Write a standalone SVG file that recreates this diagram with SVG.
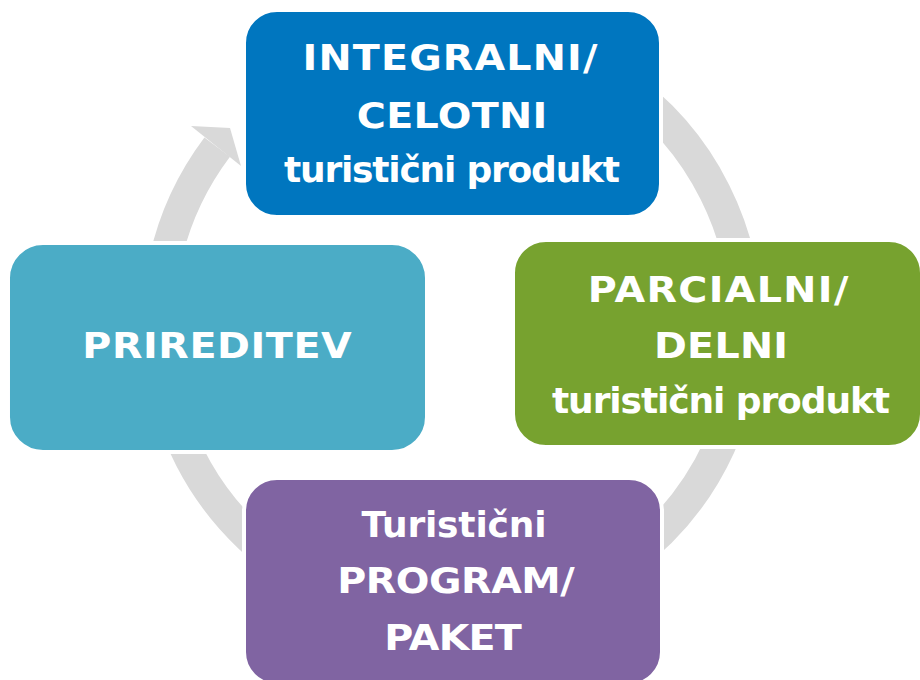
<svg xmlns="http://www.w3.org/2000/svg" width="920" height="680" viewBox="0 0 920 680">
<style>
.box{stroke:#ffffff;stroke-width:4}
.t{font-family:"DejaVu Sans","Verdana",sans-serif;font-weight:bold;font-size:36px;fill:#ffffff;text-anchor:middle}
.ring{fill:none;stroke:#D9D9D9;stroke-width:32}
</style>
<rect width="920" height="680" fill="#ffffff"/>
<g id="connectors">
<path class="ring" d="M 351.4 47.7 A 294 294 0 1 1 217.2 147.1"/>
<polygon points="191,126 230,128 241,166" fill="#D9D9D9"/>
</g>
<g id="node-integralni">
<rect class="box" x="244" y="10" width="417" height="207" rx="33" fill="#0076BF"/>
<text class="t" transform="translate(450 70) scale(1.1 1)" textLength="268" lengthAdjust="spacing">INTEGRALNI/</text>
<text class="t" transform="translate(452 128) scale(1.1 1)" textLength="173" lengthAdjust="spacing">CELOTNI</text>
<text class="t" x="452" y="182" textLength="336" lengthAdjust="spacing">turistični produkt</text>
</g>
<g id="node-prireditev">
<rect class="box" x="8" y="243" width="419" height="209" rx="35" fill="#4BACC6"/>
<text class="t" transform="translate(217 358) scale(1.1 1)" textLength="245" lengthAdjust="spacing">PRIREDITEV</text>
</g>
<g id="node-parcialni">
<rect class="box" x="513" y="240" width="409" height="207" rx="33" fill="#77A22F"/>
<text class="t" transform="translate(718 302) scale(1.1 1)" textLength="237" lengthAdjust="spacing">PARCIALNI/</text>
<text class="t" transform="translate(721 358) scale(1.1 1)" textLength="122" lengthAdjust="spacing">DELNI</text>
<text class="t" x="721" y="413" textLength="338" lengthAdjust="spacing">turistični produkt</text>
</g>
<g id="node-program">
<rect class="box" x="244" y="478" width="418" height="207" rx="33" fill="#8064A2"/>
<text class="t" x="454" y="537" textLength="185" lengthAdjust="spacing">Turistični</text>
<text class="t" transform="translate(456 593) scale(1.1 1)" textLength="216" lengthAdjust="spacing">PROGRAM/</text>
<text class="t" transform="translate(453 650) scale(1.1 1)" textLength="125" lengthAdjust="spacing">PAKET</text>
</g>
</svg>
